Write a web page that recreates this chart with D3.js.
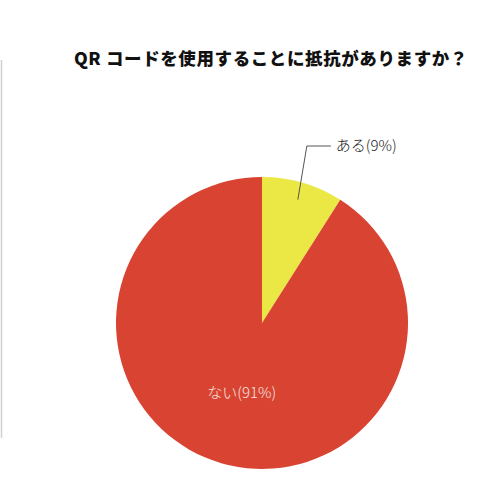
<!DOCTYPE html>
<html>
<head>
<meta charset="utf-8">
<script src="https://cdn.jsdelivr.net/npm/d3@7"></script>
<style>
  html, body { margin: 0; padding: 0; background: #fff; }
  svg { display: block; }
</style>
</head>
<body>
<svg id="chart"></svg>
<script>
const title = "QR コードを使用することに抵抗がありますか？";
const categories = ["ある", "ない"];
const values = [9, 91];
const colors = ["#ebe744", "#d94432"];

const width = 500, height = 500;
const cx = 262, cy = 323, radius = 146;

const svg = d3.select("#chart")
  .attr("width", width)
  .attr("height", height);

svg.append("rect")
  .attr("width", width)
  .attr("height", height)
  .attr("fill", "#fff");

// thin grey rule on the left edge
svg.append("line")
  .attr("x1", 1.5).attr("x2", 1.5)
  .attr("y1", 60).attr("y2", 438)
  .attr("stroke", "#d0d0d0")
  .attr("stroke-width", 1.5);

svg.append("text")
  .attr("x", 74)
  .attr("y", 65)
  .text(title)
  .style("font-family", "'Noto Sans CJK JP', sans-serif")
  .style("font-weight", 900)
  .style("font-size", "17.5px")
  .style("letter-spacing", "0.6px")
  .attr("fill", "#111");

const data = categories.map((c, i) => ({ label: c, value: values[i], color: colors[i] }));

const pie = d3.pie().sort(null).value(d => d.value);
const arcs = pie(data);
const arc = d3.arc().innerRadius(0).outerRadius(radius);

const g = svg.append("g").attr("transform", `translate(${cx},${cy})`);

g.selectAll("path")
  .data(arcs)
  .enter()
  .append("path")
  .attr("d", arc)
  .attr("fill", d => d.data.color);

// small slice: label outside with a leader line
const small = arcs[0];
const inner = d3.arc().innerRadius(radius * 0.88).outerRadius(radius * 0.88).centroid(small);
const elbow = [inner[0] + 9, -cy + 146];
const end = [elbow[0] + 24, elbow[1]];

g.append("polyline")
  .attr("points", [inner, elbow, end].map(p => p.join(",")).join(" "))
  .attr("fill", "none")
  .attr("stroke", "#555")
  .attr("stroke-width", 1);

g.append("text")
  .attr("x", end[0] + 5)
  .attr("y", end[1])
  .attr("dy", "0.35em")
  .text(`${small.data.label}(${small.data.value}%)`)
  .style("font-family", "'Noto Sans CJK JP', sans-serif")
  .style("font-weight", 300)
  .style("font-size", "15px")
  .attr("fill", "#222");

// big slice: label inside
const big = arcs[1];
const pos = d3.arc().innerRadius(radius * 0.5).outerRadius(radius * 0.5).centroid(big);

g.append("text")
  .attr("x", pos[0])
  .attr("y", pos[1])
  .attr("dy", "0.35em")
  .attr("text-anchor", "middle")
  .text(`${big.data.label}(${big.data.value}%)`)
  .style("font-family", "'Noto Sans CJK JP', sans-serif")
  .style("font-weight", 300)
  .style("font-size", "15px")
  .attr("fill", "#f6e4e0");
</script>
</body>
</html>
